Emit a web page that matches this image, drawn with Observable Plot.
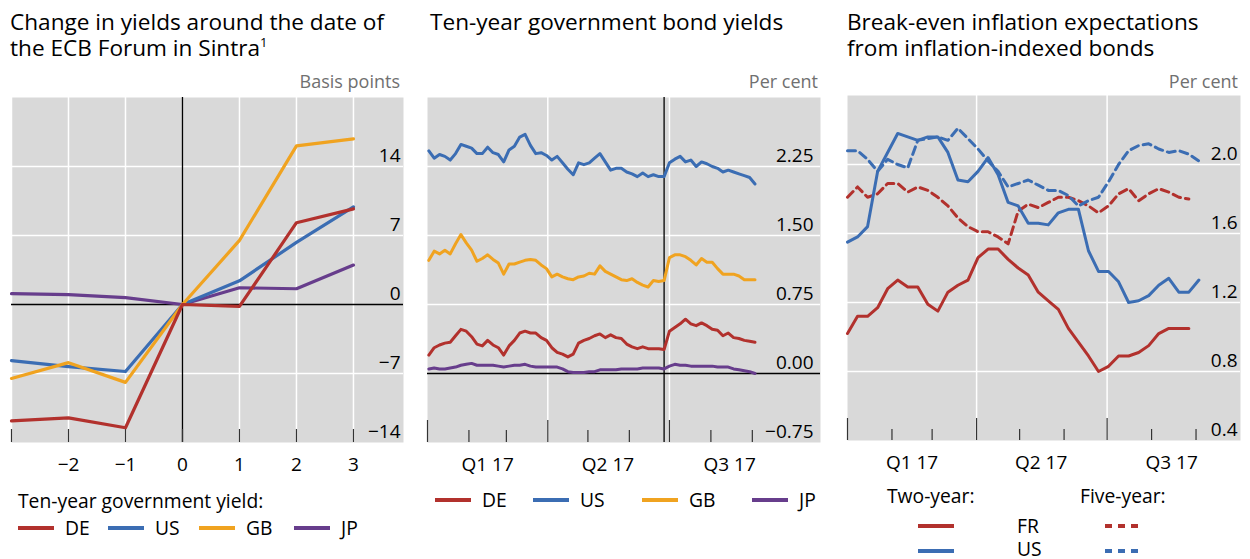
<!DOCTYPE html>
<html><head><meta charset="utf-8">
<script src="https://cdn.jsdelivr.net/npm/d3@7"></script>
<script src="https://cdn.jsdelivr.net/npm/@observablehq/plot@0.6"></script>
<style>
body{margin:0;width:1250px;height:559px;overflow:hidden;background:#fff;font-family:"Open Sans",sans-serif;position:relative}
.abs{position:absolute;white-space:nowrap}
.title{font-size:22.6px;line-height:24px;color:#000}
.unit{font-size:18px;line-height:18px;color:#707070;text-align:right}
.leg{font-size:19.3px;line-height:19px;color:#000}
sup{font-size:13px;line-height:0;vertical-align:9px}
svg{overflow:visible}
</style></head><body>
<div class="abs title" style="left:10px;top:10px">Change in yields around the date of</div>
<div class="abs title" style="left:10px;top:36px">the ECB Forum in Sintra<sup>1</sup></div>
<div class="abs title" style="left:430px;top:10px">Ten-year government bond yields</div>
<div class="abs title" style="left:847px;top:10px">Break-even inflation expectations</div>
<div class="abs title" style="left:847px;top:36px">from inflation-indexed bonds</div>
<div class="abs unit" style="right:850px;top:72px">Basis points</div>
<div class="abs unit" style="right:432px;top:72px">Per cent</div>
<div class="abs unit" style="right:12px;top:72px">Per cent</div>
<div id="p1" class="abs" style="left:0;top:90px"></div>
<div id="p2" class="abs" style="left:420px;top:90px"></div>
<div id="p3" class="abs" style="left:840px;top:90px"></div>
<div id="legends"></div>
<script>
// ---------- Panel 1: change in yields around Sintra (basis points) ----------
const offsets = [-3, -2, -1, 0, 1, 2, 3];
const chgDE = [-11.8, -11.5, -12.5, 0, -0.2, 8.3, 9.7];
const chgUS = [-5.7, -6.3, -6.8, 0, 2.4, 6.3, 9.9];
const chgGB = [-7.5, -5.9, -7.9, 0, 6.5, 16.1, 16.8];
const chgJP = [1.1, 1.0, 0.7, 0, 1.7, 1.6, 4.0];
const p1YTicks = [-14, -7, 0, 7, 14];
const p1XLabels = [-2, -1, 0, 1, 2, 3];

// ---------- Panel 2: ten-year yields (per cent), every 4 days from 2 Jan 2017 ----------
const p2Start = "2017-01-02";
const p2StepDays = 4;
const y10US = [2.42,2.34,2.38,2.36,2.32,2.39,2.49,2.47,2.45,2.39,2.39,2.46,2.40,2.38,2.30,2.43,2.47,2.57,2.60,2.48,2.39,2.40,2.37,2.32,2.36,2.29,2.22,2.16,2.29,2.27,2.29,2.34,2.39,2.30,2.21,2.23,2.23,2.19,2.17,2.14,2.18,2.14,2.16,2.14,2.14,2.29,2.33,2.36,2.30,2.32,2.25,2.30,2.28,2.25,2.23,2.19,2.21,2.19,2.17,2.15,2.13,2.06];
const y10GB = [1.23,1.33,1.30,1.34,1.30,1.41,1.51,1.42,1.34,1.22,1.25,1.29,1.24,1.20,1.08,1.19,1.19,1.21,1.23,1.24,1.23,1.18,1.14,1.05,1.08,1.05,1.03,1.02,1.05,1.06,1.09,1.08,1.17,1.11,1.08,1.05,1.02,1.01,1.03,0.99,0.96,0.94,1.01,1.00,1.01,1.26,1.29,1.29,1.27,1.23,1.18,1.25,1.21,1.21,1.14,1.08,1.08,1.08,1.06,1.02,1.02,1.02];
const y10DE = [0.20,0.28,0.31,0.33,0.34,0.41,0.48,0.46,0.40,0.32,0.30,0.36,0.31,0.28,0.20,0.30,0.36,0.44,0.46,0.44,0.44,0.39,0.36,0.28,0.23,0.21,0.18,0.21,0.33,0.36,0.38,0.41,0.43,0.39,0.42,0.39,0.38,0.32,0.29,0.27,0.29,0.27,0.27,0.27,0.26,0.46,0.50,0.54,0.59,0.54,0.52,0.55,0.52,0.48,0.47,0.41,0.44,0.39,0.38,0.36,0.35,0.34];
const y10JP = [0.05,0.06,0.05,0.05,0.06,0.07,0.09,0.10,0.11,0.09,0.09,0.09,0.09,0.08,0.07,0.08,0.09,0.09,0.10,0.08,0.07,0.07,0.07,0.07,0.07,0.05,0.02,0.01,0.01,0.01,0.02,0.02,0.04,0.04,0.04,0.04,0.05,0.05,0.05,0.05,0.06,0.06,0.06,0.06,0.05,0.08,0.10,0.09,0.09,0.08,0.08,0.08,0.08,0.08,0.07,0.07,0.07,0.05,0.04,0.03,0.02,0.00];
const p2YTicks = [-0.75, 0, 0.75, 1.5, 2.25];
const sintraDate = "2017-06-27";

// ---------- Panel 3: break-even inflation (per cent), weekly from 1 Jan 2017 ----------
const p3Start = "2017-01-01";
const be2FR = [1.02,1.12,1.12,1.17,1.28,1.33,1.29,1.29,1.19,1.15,1.26,1.30,1.33,1.46,1.51,1.51,1.45,1.40,1.36,1.26,1.21,1.16,1.05,0.97,0.89,0.80,0.83,0.89,0.89,0.91,0.95,1.02,1.05,1.05,1.05];
const be2US = [1.55,1.58,1.64,1.96,2.07,2.18,2.16,2.14,2.16,2.16,2.07,1.91,1.90,1.96,2.04,1.94,1.78,1.76,1.66,1.66,1.65,1.72,1.74,1.74,1.50,1.38,1.38,1.32,1.20,1.21,1.24,1.30,1.34,1.26,1.26,1.33];
const be5FR = [1.81,1.87,1.81,1.83,1.89,1.89,1.84,1.87,1.85,1.81,1.76,1.69,1.64,1.61,1.61,1.58,1.54,1.73,1.77,1.75,1.78,1.81,1.81,1.79,1.76,1.72,1.76,1.83,1.86,1.79,1.83,1.86,1.84,1.81,1.80];
const be5US = [2.08,2.08,2.03,1.96,2.03,2.00,1.98,2.14,2.15,2.16,2.14,2.21,2.15,2.09,2.02,1.96,1.87,1.89,1.91,1.88,1.85,1.85,1.82,1.76,1.79,1.81,1.90,2.00,2.08,2.11,2.12,2.09,2.07,2.08,2.06,2.02];
const p3YTicks = [0.4, 0.8, 1.2, 1.6, 2.0];

// time-axis labels
const quarterLabels = [["2017-02-15","Q1 17"],["2017-05-16","Q2 17"],["2017-08-15","Q3 17"]];
const majorTicks = ["2017-01-01","2017-04-01","2017-07-01"];
const minorTicks = ["2017-02-01","2017-03-01","2017-05-01","2017-06-01","2017-08-01","2017-09-01"];

// ---------- styles ----------
const FONT = '"Open Sans", sans-serif';
const BG = "#d9d9d9";
const COL = {DE:"#b2312d", FR:"#b2312d", US:"#3b6db3", GB:"#f0a320", JP:"#673d8c"};
const FRAME_H = 345;
const minus = s => String(s).replace("-", "\u2212");
const D = s => new Date(s + "T00:00:00Z");

// ---------- Panel 1 ----------
const p1Rows = [];
[["DE", chgDE], ["US", chgUS], ["GB", chgGB], ["JP", chgJP]].forEach(([s, v]) =>
  offsets.forEach((x, i) => p1Rows.push({s, x, y: v[i]})));
const order1 = ["JP", "US", "GB", "DE"];
p1Rows.sort((a, b) => order1.indexOf(a.s) - order1.indexOf(b.s));

const p1 = Plot.plot({
  width: 410, height: 390,
  marginLeft: 11, marginRight: 7, marginTop: 7, marginBottom: 38,
  x: {type: "linear", domain: [-3, 3.878], axis: null},
  y: {domain: [-14, 21], axis: null},
  color: {domain: Object.keys(COL), range: Object.values(COL)},
  style: {fontFamily: FONT, fontSize: "19px", color: "#000", background: "transparent"},
  marks: [
    Plot.frame({fill: BG, stroke: null}),
    Plot.ruleY([-7, 7, 14], {stroke: "white", strokeWidth: 1.5}),
    Plot.ruleX(offsets.filter(d => d !== 0), {stroke: "white", strokeWidth: 1.5}),
    Plot.ruleY([0], {stroke: "black", strokeWidth: 1.3}),
    Plot.ruleX([0], {stroke: "black", strokeWidth: 1.3}),
    Plot.ruleX(offsets, {stroke: "#333", strokeWidth: 1.2, insetTop: FRAME_H - 13}),
    Plot.line(p1Rows, {x: "x", y: "y", z: "s", stroke: "s", strokeWidth: 3.2}),
    Plot.text(p1YTicks, {frameAnchor: "right", y: d => d, text: d => minus(d), textAnchor: "end", lineAnchor: "bottom", dx: -3, dy: -5}),
    Plot.text(p1XLabels, {x: d => d, frameAnchor: "bottom", text: d => minus(d), lineAnchor: "bottom", dy: 28})
  ]
});
document.getElementById("p1").append(p1);

// ---------- Panel 2 ----------
const p2Rows = [];
[["JP", y10JP], ["DE", y10DE], ["GB", y10GB], ["US", y10US]].forEach(([s, v]) =>
  v.forEach((y, i) => p2Rows.push({s, date: d3.utcDay.offset(D(p2Start), i * p2StepDays), y})));

const p2 = Plot.plot({
  width: 410, height: 390,
  marginLeft: 7, marginRight: 10, marginTop: 7, marginBottom: 38,
  x: {type: "utc", domain: [D("2017-01-01"), D("2017-10-22")], axis: null},
  y: {domain: [-0.75, 3.0], axis: null},
  color: {domain: Object.keys(COL), range: Object.values(COL)},
  style: {fontFamily: FONT, fontSize: "19px", color: "#000", background: "transparent"},
  marks: [
    Plot.frame({fill: BG, stroke: null}),
    Plot.ruleY([0.75, 1.5, 2.25], {stroke: "white", strokeWidth: 1.5}),
    Plot.ruleX(majorTicks.slice(1).map(D), {stroke: "white", strokeWidth: 1.5}),
    Plot.ruleY([0], {stroke: "black", strokeWidth: 1.3}),
    Plot.ruleX([D(sintraDate)], {stroke: "black", strokeWidth: 1.3}),
    Plot.ruleX(majorTicks.map(D), {stroke: "#333", strokeWidth: 1.2, insetTop: FRAME_H - 22}),
    Plot.ruleX(minorTicks.map(D), {stroke: "#333", strokeWidth: 1.2, insetTop: FRAME_H - 12}),
    Plot.line(p2Rows, {x: "date", y: "y", z: "s", stroke: "s", strokeWidth: 3, strokeLinejoin: "round"}),
    Plot.text(p2YTicks, {frameAnchor: "right", y: d => d, text: d => minus(d.toFixed(2)), textAnchor: "end", lineAnchor: "bottom", dx: -7, dy: -5}),
    Plot.text(quarterLabels, {x: d => D(d[0]), frameAnchor: "bottom", text: d => d[1], lineAnchor: "bottom", dy: 28})
  ]
});
document.getElementById("p2").append(p2);

// ---------- Panel 3 ----------
const p3Rows = [];
[["FR5", "FR", true, be5FR], ["US5", "US", true, be5US], ["FR2", "FR", false, be2FR], ["US2", "US", false, be2US]].forEach(([k, c, dash, v]) =>
  v.forEach((y, i) => p3Rows.push({k, c, dash, date: d3.utcDay.offset(D(p3Start), i * 7), y})));

const p3 = Plot.plot({
  width: 410, height: 390,
  marginLeft: 7, marginRight: 10, marginTop: 5, marginBottom: 40,
  x: {type: "utc", domain: [D("2017-01-01"), D("2017-10-02")], axis: null},
  y: {domain: [0.4, 2.4], axis: null},
  color: {domain: Object.keys(COL), range: Object.values(COL)},
  style: {fontFamily: FONT, fontSize: "19px", color: "#000", background: "transparent"},
  marks: [
    Plot.frame({fill: BG, stroke: null}),
    Plot.ruleY([0.8, 1.2, 1.6, 2.0], {stroke: "white", strokeWidth: 1.5}),
    Plot.ruleX(majorTicks.slice(1).map(D), {stroke: "white", strokeWidth: 1.5}),
    Plot.ruleX(majorTicks.map(D), {stroke: "#333", strokeWidth: 1.2, insetTop: FRAME_H - 22}),
    Plot.ruleX(minorTicks.map(D), {stroke: "#333", strokeWidth: 1.2, insetTop: FRAME_H - 11}),
    Plot.line(p3Rows.filter(d => d.dash), {x: "date", y: "y", z: "k", stroke: "c", strokeWidth: 3, strokeDasharray: "8,5"}),
    Plot.line(p3Rows.filter(d => !d.dash), {x: "date", y: "y", z: "k", stroke: "c", strokeWidth: 3}),
    Plot.text(p3YTicks, {frameAnchor: "right", y: d => d, text: d => d.toFixed(1), textAnchor: "end", lineAnchor: "bottom", dx: -3, dy: -5}),
    Plot.text(quarterLabels, {x: d => D(d[0]), frameAnchor: "bottom", text: d => d[1], lineAnchor: "bottom", dy: 28})
  ]
});
document.getElementById("p3").append(p3);

// ---------- Legends (HTML) ----------
const L = document.getElementById("legends");
function txt(s, left, top) {
  const e = document.createElement("div");
  e.className = "abs leg"; e.style.left = left + "px"; e.style.top = top + "px"; e.textContent = s;
  L.append(e);
}
function swatch(color, left, cy, dashed) {
  const ns = "http://www.w3.org/2000/svg";
  const s = document.createElementNS(ns, "svg");
  s.setAttribute("width", 36); s.setAttribute("height", 6);
  s.style.position = "absolute"; s.style.left = left + "px"; s.style.top = (cy - 3) + "px";
  const l = document.createElementNS(ns, "line");
  l.setAttribute("x1", 0); l.setAttribute("x2", 36); l.setAttribute("y1", 3); l.setAttribute("y2", 3);
  l.setAttribute("stroke", color); l.setAttribute("stroke-width", 4);
  if (dashed) { l.setAttribute("stroke-dasharray", "7,6"); l.setAttribute("stroke-dashoffset", "-2"); }
  s.append(l); L.append(s);
}
// panel 1
txt("Ten-year government yield:", 18, 491);
[["DE", 18], ["US", 108], ["GB", 199], ["JP", 294]].forEach(([k, x]) => { swatch(COL[k], x, 528); txt(k, x + 47, 518); });
// panel 2
[["DE", 435], ["US", 533], ["GB", 642], ["JP", 752]].forEach(([k, x]) => { swatch(COL[k], x, 500); txt(k, x + 47, 490); });
// panel 3
txt("Two-year:", 887, 486);
txt("Five-year:", 1080, 486);
swatch(COL.FR, 918, 526); txt("FR", 1017, 516); swatch(COL.FR, 1103, 526, true);
swatch(COL.US, 918, 551); txt("US", 1017, 539); swatch(COL.US, 1103, 551, true);
</script>
</body></html>
